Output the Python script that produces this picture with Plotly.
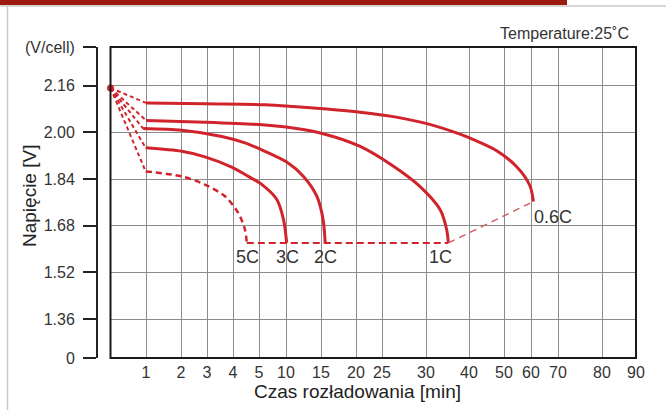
import numpy as np
import plotly.graph_objects as go

# ---------------- data ----------------
tick_times = [0, 1, 2, 3, 4, 5, 10, 15, 20, 25, 30, 40, 50, 60, 70, 80, 90]
tick_labels = ["", "1", "2", "3", "4", "5", "10", "15", "20", "25", "30", "40", "50", "60", "70", "80", "90"]

y_tick_values = [1.36, 1.52, 1.68, 1.84, 2.00, 2.16]
y_tick_labels = ["1.36", "1.52", "1.68", "1.84", "2.00", "2.16"]

start_t, start_v = 0.0, 2.152

c06_t = [1.0, 2.92, 6.1, 11.0, 15.8, 20.8, 26.3, 30.2, 37.9, 40.3, 47.9, 54.7, 59.6, 60.9]
c06_v = [2.101, 2.098, 2.095, 2.089, 2.080, 2.069, 2.054, 2.030, 1.994, 1.980, 1.937, 1.882, 1.817, 1.763]

c1_t = [1.0, 2.92, 5.6, 11.0, 14.9, 20.8, 26.3, 29.3, 33.3, 34.8, 35.2]
c1_v = [2.041, 2.035, 2.026, 2.015, 1.998, 1.952, 1.884, 1.815, 1.735, 1.667, 1.621]

c2_t = [0.92, 2.03, 3.57, 4.46, 6.1, 10.1, 12.5, 14.4, 15.3, 15.6]
c2_v = [2.013, 2.007, 1.986, 1.964, 1.935, 1.898, 1.849, 1.781, 1.701, 1.621]

c3_t = [0.99, 2.03, 2.92, 3.95, 4.59, 5.55, 8.3, 9.54, 10.1]
c3_v = [1.947, 1.935, 1.916, 1.881, 1.849, 1.821, 1.770, 1.701, 1.621]

c5_t = [0.99, 2.03, 2.92, 3.69, 4.2, 4.46, 4.53]
c5_v = [1.866, 1.849, 1.821, 1.781, 1.724, 1.667, 1.621]

curve_names = ["0.6C", "1C", "2C", "3C", "5C"]

# ---------------- layout / scale ----------------
W, H = 666, 410
ml, mr, mt, mb = 97, 30, 47, 52
pw, ph = W - ml - mr, H - mt - mb
x_dom0 = (110.5 - ml) / pw

# custom (hand-drawn) time scale: position of each tick along the axis
tick_pos = [0, 35.5, 70.5, 96.5, 122.5, 148.5, 175.5, 210.5, 245.5, 271.5,
            315.5, 358.5, 393.5, 420.5, 447.5, 491.5, 525.5]
y_lo, y_hi = 1.2263, 2.2927


def tx(t):
    return np.interp(np.asarray(t, dtype=float), tick_times, tick_pos)


def pxx(px):
    return (px - ml) / pw


def pxy(py):
    return 1 - (py - mt) / ph


RED = "#D0232C"
FONT = "Liberation Sans, Arial, sans-serif"

fig = go.Figure()

solid = [(c06_t, c06_v), (c1_t, c1_v), (c2_t, c2_v), (c3_t, c3_v)]

# fan of dashed lines from start point to curve starts
for ct, cv in solid + [(c5_t, c5_v)]:
    fig.add_trace(go.Scatter(
        x=tx([start_t, ct[0]]), y=[start_v, cv[0]], mode="lines",
        line=dict(color=RED, width=2, dash="4px,3px"),
        hoverinfo="skip", showlegend=False, cliponaxis=False))

for ct, cv in solid:
    fig.add_trace(go.Scatter(
        x=tx(ct), y=cv, mode="lines",
        line=dict(color=RED, width=3, shape="spline", smoothing=0.8),
        showlegend=False))

fig.add_trace(go.Scatter(
    x=tx(c5_t), y=c5_v, mode="lines",
    line=dict(color=RED, width=2.5, dash="6px,4px", shape="spline", smoothing=0.8),
    showlegend=False))

# cut-off line
fig.add_trace(go.Scatter(
    x=tx([c5_t[-1], c1_t[-1]]), y=[c5_v[-1], c1_v[-1]], mode="lines",
    line=dict(color=RED, width=2, dash="7px,4px"), showlegend=False))
fig.add_trace(go.Scatter(
    x=tx([c1_t[-1], c06_t[-1]]), y=[c1_v[-1], c06_v[-1]], mode="lines",
    line=dict(color="#D65A63", width=1.5, dash="7px,5px"), showlegend=False))

# start dot
fig.add_trace(go.Scatter(
    x=tx([start_t]), y=[start_v], mode="markers",
    marker=dict(color=RED, size=7), showlegend=False, cliponaxis=False))

# curve labels
label_specs = [
    ("0.6C", c06_t[-1], c06_v[-1], "left", -1, -16),
    ("1C", c1_t[-1], c1_v[-1], "center", -8, -14),
    ("2C", c2_t[-1], c2_v[-1], "center", 0, -14),
    ("3C", c3_t[-1], c3_v[-1], "center", 1, -14),
    ("5C", c5_t[-1], c5_v[-1], "center", 1, -14),
]
for txt, t, v, xa, xs, ys in label_specs:
    fig.add_annotation(x=float(tx(t)), y=v, xref="x", yref="y", text=txt,
                       showarrow=False, xanchor=xa, yanchor="middle",
                       xshift=xs, yshift=ys,
                       font=dict(family=FONT, size=18, color="#333333"))

# axis titles & temperature
fig.add_annotation(x=pxx(357), y=pxy(391), xref="paper", yref="paper",
                   text="Czas rozładowania [min]", showarrow=False,
                   xanchor="center", yanchor="middle",
                   font=dict(family=FONT, size=19, color="#222222"))
fig.add_annotation(x=pxx(29), y=pxy(196), xref="paper", yref="paper",
                   text="Napięcie [V]", showarrow=False, textangle=-90,
                   xanchor="center", yanchor="middle",
                   font=dict(family=FONT, size=19, color="#222222"))
fig.add_annotation(x=pxx(631), y=pxy(33), xref="paper", yref="paper",
                   text="Temperature:25˚C", showarrow=False,
                   xanchor="right", yanchor="middle",
                   font=dict(family=FONT, size=16, color="#333333"))

shapes = [
    # plot frame
    dict(type="rect", xref="paper", yref="paper", x0=x_dom0, x1=1, y0=0, y1=1,
         line=dict(color="#1a1a1a", width=2), layer="above"),
    # header bar and page frame
    dict(type="rect", xref="paper", yref="paper", x0=pxx(0), x1=pxx(567),
         y0=pxy(5), y1=pxy(0), line=dict(width=0), fillcolor="#9B1B12"),
    dict(type="line", xref="paper", yref="paper", x0=pxx(0), x1=pxx(666),
         y0=pxy(6), y1=pxy(6), line=dict(color="#c8c8c8", width=1.5)),
    dict(type="line", xref="paper", yref="paper", x0=pxx(7.5), x1=pxx(7.5),
         y0=pxy(6), y1=pxy(410), line=dict(color="#c8c8c8", width=1.5)),
]

fig.update_layout(
    width=W, height=H,
    margin=dict(l=ml, r=mr, t=mt, b=mb),
    paper_bgcolor="white", plot_bgcolor="white",
    shapes=shapes,
    xaxis=dict(domain=[x_dom0, 1], range=[0, tick_pos[-1]],
               tickvals=tick_pos[1:], ticktext=tick_labels[1:],
               showgrid=True, gridcolor="#8c8c8c", gridwidth=1,
               zeroline=False, showline=False, ticks="",
               ticklabelstandoff=3,
               tickfont=dict(family=FONT, size=16, color="#333333")),
    yaxis=dict(anchor="free", position=0, range=[y_lo, y_hi],
               tickvals=[y_lo] + y_tick_values + [y_hi],
               ticktext=["0"] + y_tick_labels + ["(V/cell)"],
               showgrid=True, gridcolor="#8c8c8c", gridwidth=1,
               zeroline=False, showline=True, linecolor="#222222", linewidth=2,
               ticks="outside", ticklen=13, tickwidth=1.5, tickcolor="#222222",
               ticklabelstandoff=5,
               tickfont=dict(family=FONT, size=16, color="#333333")),
)

fig.write_html("out.html",
               config={"displayModeBar": False},
               post_script="document.body.style.margin='0px';document.body.style.padding='0px';")
